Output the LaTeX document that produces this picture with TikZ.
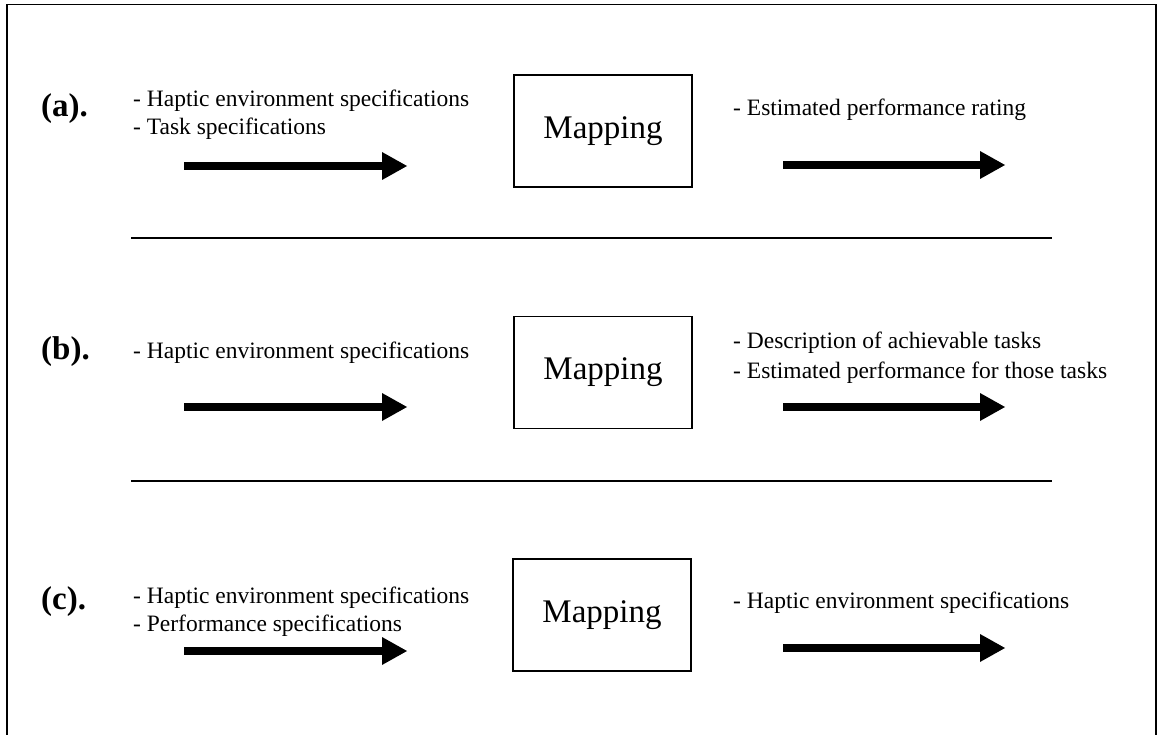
\documentclass[tikz,border=0pt]{standalone}
\usepackage{fontspec}
\setmainfont{Liberation Serif}
\usetikzlibrary{arrows.meta}
\tikzset{
  txt/.style={anchor=west, inner sep=0pt, font=\fontsize{23.5}{27}\selectfont, text height=0.66em, text depth=0.22em},
  lbl/.style={anchor=west, inner sep=0pt, font=\fontsize{33}{36}\selectfont\bfseries, text height=0.7em, text depth=0.22em},
  mapbox/.style={draw, line width=1.3pt, minimum width=178pt, minimum height=112pt, inner sep=0pt, font=\fontsize{33}{36}\selectfont},
  bigarrow/.style={line width=8pt, -{Triangle[length=25pt,width=28pt,line width=0pt]}},
  sep/.style={line width=1.6pt}
}
\begin{document}
\begin{tikzpicture}[x=1pt,y=-1pt]
\useasboundingbox (0,0) rectangle (1157,735);
\draw[line width=1.5pt] (7,735) -- (7,4.5) -- (1156,4.5) -- (1156,735);

% row (a)
\node[lbl] (la) at (41,114) {(a).};
\node[txt] (ta1) at (133,104) {- Haptic environment specifications};
\node[txt] (ta2) at (133,132) {- Task specifications};
\node[mapbox] (ma) at (603,131) {Mapping};
\node[txt] (ra1) at (733,113) {- Estimated performance rating};
\coordinate (a1s) at (184,166);
\coordinate (a1e) at (407,166);
\coordinate (a2s) at (783,165);
\coordinate (a2e) at (1005,165);
\draw[bigarrow] (a1s) -- (a1e);
\draw[bigarrow] (a2s) -- (a2e);

\coordinate (s1l) at (131,238);
\coordinate (s1r) at (1052,238);
\draw[sep] (s1l) -- (s1r);

% row (b)
\node[lbl] (lb) at (41,357) {(b).};
\node[txt] (tb1) at (133,356) {- Haptic environment specifications};
\node[mapbox] (mb) at (603,372.5) {Mapping};
\node[txt] (rb1) at (733,346) {- Description of achievable tasks};
\node[txt] (rb2) at (733,376) {- Estimated performance for those tasks};
\coordinate (b1s) at (184,407);
\coordinate (b1e) at (407,407);
\coordinate (b2s) at (783,407);
\coordinate (b2e) at (1005,407);
\draw[bigarrow] (b1s) -- (b1e);
\draw[bigarrow] (b2s) -- (b2e);

\coordinate (s2l) at (131,481);
\coordinate (s2r) at (1052,481);
\draw[sep] (s2l) -- (s2r);

% row (c)
\node[lbl] (lc) at (41,607) {(c).};
\node[txt] (tc1) at (133,601) {- Haptic environment specifications};
\node[txt] (tc2) at (133,629) {- Performance specifications};
\node[mapbox] (mc) at (602,615) {Mapping};
\node[txt] (rc1) at (733,606) {- Haptic environment specifications};
\coordinate (c1s) at (184,651);
\coordinate (c1e) at (407,651);
\coordinate (c2s) at (783,648);
\coordinate (c2e) at (1005,648);
\draw[bigarrow] (c1s) -- (c1e);
\draw[bigarrow] (c2s) -- (c2e);
\end{tikzpicture}
\end{document}
